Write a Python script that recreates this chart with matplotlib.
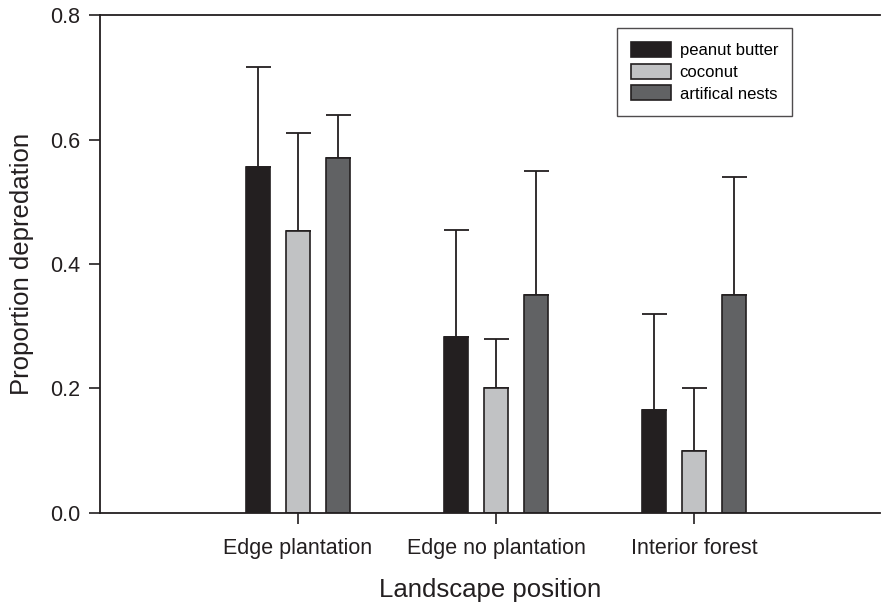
import numpy as np
import matplotlib.pyplot as plt

plt.rcParams['font.family'] = ['Liberation Sans', 'DejaVu Sans']

# data
positions = ["Edge plantation", "Edge no plantation", "Interior forest"]
series = ["peanut butter", "coconut", "artifical nests"]
peanut_butter = [0.556, 0.283, 0.165]
coconut = [0.453, 0.200, 0.100]
artificial_nests = [0.570, 0.350, 0.350]
peanut_err = [0.160, 0.172, 0.155]
coconut_err = [0.157, 0.080, 0.100]
artificial_err = [0.069, 0.200, 0.190]

colors = ["#231f20", "#c1c2c4", "#616264"]
edge = "#231f20"

fig = plt.figure(figsize=(8.83, 6.03), dpi=100)
ax = fig.add_axes([0.1133, 0.1493, 0.8834, 0.8258])

x = np.arange(1, len(positions) + 1)
width = 0.121
offset = 0.2
values = [peanut_butter, coconut, artificial_nests]
errors = [peanut_err, coconut_err, artificial_err]
for i, (vals, errs) in enumerate(zip(values, errors)):
    ax.bar(x + (i - 1) * offset, vals, width, color=colors[i], edgecolor=edge,
           linewidth=1.2, label=series[i], zorder=2)
    ax.errorbar(x + (i - 1) * offset, vals, yerr=[np.zeros(len(errs)), errs],
                fmt="none", ecolor=edge, elinewidth=1.3, capsize=9,
                capthick=1.3, zorder=1)

ax.set_xlim(0, 3.94)
ax.set_ylim(0, 0.8)
ax.set_yticks([0.0, 0.2, 0.4, 0.6, 0.8])
ax.set_yticklabels(["0.0", "0.2", "0.4", "0.6", "0.8"])
ax.set_xticks(x)
ax.set_xticklabels(positions)
ax.tick_params(axis="both", direction="out", length=8, width=1.2,
               labelsize=15.5, colors="#231f20", pad=6)
ax.tick_params(axis="x", pad=10)

for s in ["left", "bottom", "top"]:
    ax.spines[s].set_linewidth(1.3)
    ax.spines[s].set_color(edge)
ax.spines["right"].set_visible(False)

ax.set_xlabel("Landscape position", fontsize=18.5, color="#231f20", labelpad=14)
ax.set_ylabel("Proportion depredation", fontsize=18.5, color="#231f20", labelpad=12)

leg = ax.legend(loc="upper left", bbox_to_anchor=(0.663, 0.974), fontsize=12,
                frameon=True, fancybox=False, handlelength=2.35, handleheight=1.0,
                handletextpad=0.55, labelspacing=0.33, borderpad=0.85,
                borderaxespad=0)
leg.get_frame().set_edgecolor(edge)
leg.get_frame().set_linewidth(1.0)

fig.savefig("out.png", dpi=100)
